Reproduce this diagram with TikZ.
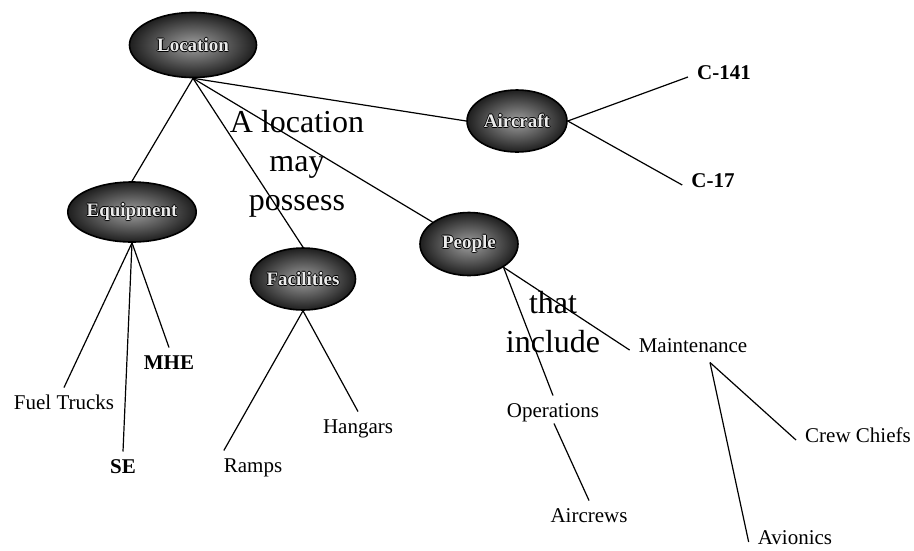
\documentclass[tikz,border=0pt]{standalone}
\usepackage{fontspec}
\setmainfont{Liberation Serif}
\usetikzlibrary{calc,shapes.geometric}

% light lettering with a dark rim, as used inside the shaded ovals
\newcommand\embtext[1]{\leavevmode
  \rlap{\color{black}\kern-0.9pt#1}%
  \rlap{\color{black}\kern0.9pt#1}%
  \rlap{\color{black}\raisebox{0.9pt}{#1}}%
  \rlap{\color{black}\raisebox{-0.9pt}{#1}}%
  {\color{black!8}#1}}

\tikzset{
  topic/.style={ellipse, draw=black, line width=1.6pt,
    inner color=black!38, outer color=black!88, inner sep=0pt,
    font=\bfseries\fontsize{19}{19}\selectfont},
  item/.style={inner xsep=9pt, inner ysep=15pt, font=\fontsize{21}{24}\selectfont,
    text height=0.68em, text depth=0.18em},
  itemb/.style={item, font=\bfseries\fontsize{21}{24}\selectfont},
  note/.style={align=center, inner sep=0pt, font=\fontsize{32}{39}\selectfont},
  link/.style={line width=1.2pt}
}

\begin{document}
\begin{tikzpicture}[x=1pt, y=-1pt]
\useasboundingbox (0,0) rectangle (914,550);

% ovals
\node[topic, minimum width=127pt, minimum height=65pt] (loc)    at (193,45)  {\embtext{Location}};
\node[topic, minimum width=110pt, minimum height=60pt] (equip)  at (132,212) {\embtext{Equipment}};
\node[topic, minimum width=105pt, minimum height=62pt] (fac)    at (303,279) {\embtext{Facilities}};
\node[topic, minimum width=98pt,  minimum height=63pt] (people) at (469,244) {\embtext{People}};
\node[topic, minimum width=100pt, minimum height=62pt] (air)    at (517,121) {\embtext{Aircraft}};

% leaf labels
\node[item]  (ft)     at (64,407)  {Fuel Trucks};
\node[itemb] (se)     at (123,471) {SE};
\node[itemb] (mhe)    at (169,367) {MHE};
\node[item]  (ramps)  at (253,470) {Ramps};
\node[item]  (hang)   at (358,431) {Hangars};
\node[item]  (ops)    at (553,415) {Operations};
\node[item]  (crews)  at (589,520) {Aircrews};
\node[item]  (maint)  at (693,350) {Maintenance};
\node[item]  (chiefs) at (858,440) {Crew Chiefs};
\node[item]  (avion)  at (795,542) {Avionics};
\node[itemb] (c141)   at (724,77)  {C-141};
\node[itemb] (c17)    at (713,185) {C-17};

% explanatory phrases
\node[note] (possess) at (297,164) {A location\\may\\possess};
\node[note] (include) at (553,322) {that\\include};

% branch points just under the text lines
\coordinate (mhub) at ($(maint.base)+(17,10)$);
\coordinate (ohub) at ($(ops.base)+(1,6)$);

% connectors
\draw[link] (loc.south) -- (equip.north);
\draw[link] (loc.south) -- (fac.north);
\draw[link] (loc.south) -- (people);
\draw[link] (loc.south) -- (air.west);

\draw[link] (equip.south) -- (ft.north);
\draw[link] (equip.south) -- (se.north);
\draw[link] (equip.south) -- (mhe.north);

\draw[link] (fac.south) -- ($(ramps.north west)!0.12!(ramps.north east)$);
\draw[link] (fac.south) -- (hang.north);

\draw[link] (people.-34) -- (maint.west);
\draw[link] (people.-34) -- (ops.north);
\draw[link] (ohub) -- (crews.north);

\draw[link] (mhub) -- (chiefs.west);
\draw[link] (mhub) -- (avion.west);

\draw[link] (air.east) -- (c141.west);
\draw[link] (air.east) -- (c17.west);
\end{tikzpicture}
\end{document}
